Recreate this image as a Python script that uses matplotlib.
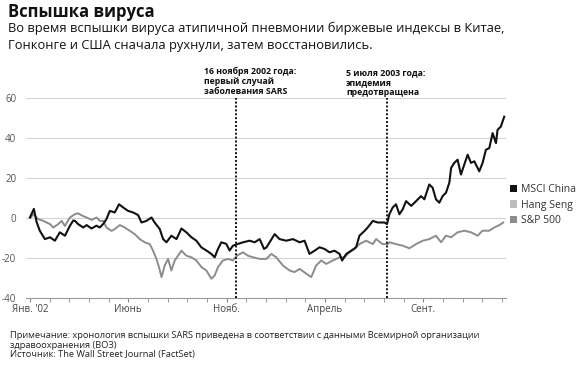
import numpy as np
import matplotlib
matplotlib.use("Agg")
import matplotlib.pyplot as plt
from matplotlib.patches import Patch

plt.rcParams['font.family'] = ['Open Sans', 'DejaVu Sans']

# Months since Jan 2002 and % change
msci_m = [0, 0.2, 0.34, 0.5, 0.76, 1.02, 1.27, 1.52, 1.78, 2.03, 2.2, 2.29, 2.45, 2.71, 2.88, 3.13,
          3.38, 3.55, 3.72, 3.89, 4.06, 4.31, 4.53, 4.74, 4.99, 5.25, 5.5, 5.67, 5.92, 6.18,
          6.34, 6.6, 6.77, 6.94, 7.19, 7.45, 7.7, 7.95, 8.21, 8.46, 8.71, 8.97, 9.22, 9.39,
          9.56, 9.73, 9.98, 10.15, 10.32, 10.58, 10.83, 11.17, 11.42, 11.68, 11.9, 12.02,
          12.44, 12.69, 13.03, 13.37, 13.71, 13.96, 14.21, 14.47, 14.72, 14.97, 15.23, 15.48,
          15.74, 15.87, 16.08, 16.33, 16.58, 16.75, 17.01, 17.17, 17.43, 17.68, 18.02, 18.15,
          18.27, 18.44, 18.61, 18.78, 18.95, 19.12, 19.38, 19.63, 19.88, 20.05, 20.3, 20.47,
          20.64, 20.81, 20.98, 21.15, 21.32, 21.41, 21.57, 21.74, 21.91, 22.08, 22.25, 22.42,
          22.59, 22.84, 23.01, 23.18, 23.35, 23.52, 23.69, 23.77, 23.94, 24.11]
msci_v = [0, 4.3, -2.3, -6.6, -10.8, -9.9, -11.6, -7.4, -9.1, -4.2, -1.5, -1.7, -3.3, -5.0, -3.8, -5.5,
          -4.1, -5.0, -3.3, -0.8, 3.3, 2.5, 6.6, 5.0, 3.3, 2.5, 1.2, -2.5, -1.7, 0,
          -2.5, -5.8, -10.8, -12.4, -9.1, -10.8, -5.5, -7.4, -9.9, -11.6, -14.9, -16.5, -18.2, -19.9,
          -15.7, -12.4, -13.2, -16.5, -14.1, -13.2, -12.4, -11.6, -12.4, -10.8, -15.7, -15.0,
          -8.3, -10.8, -11.6, -10.8, -12.4, -11.6, -18.2, -16.6, -14.9, -15.7, -17.4, -16.6,
          -18.2, -21.5, -18.2, -16.6, -14.9, -9.1, -6.7, -5.0, -1.7, -2.5, -2.5, -3.3,
          1.6, 5.0, 6.6, 1.6, 4.1, 8.2, 5.8, 8.2, 10.7, 9.1, 16.5, 14.9,
          9.1, 7.4, 10.7, 12.4, 17.4, 24.8, 27.3, 28.9, 21.5, 26.5, 31.4, 27.3,
          28.1, 23.1, 27.3, 33.9, 34.7, 42.2, 37.2, 43.8, 45.5, 50.4]

sp_m = [0.04, 0.17, 0.42, 0.68, 1.02, 1.18, 1.44, 1.61, 1.78, 2.03, 2.28, 2.45, 2.62, 2.88, 3.13,
        3.39, 3.55, 3.72, 3.89, 4.15, 4.31, 4.57, 4.82, 5.08, 5.33, 5.58, 5.84, 6.09, 6.26,
        6.43, 6.56, 6.69, 6.85, 7.02, 7.19, 7.36, 7.53, 7.7, 7.95, 8.21, 8.46, 8.72, 8.97,
        9.22, 9.39, 9.56, 9.81, 10.07, 10.32, 10.52, 10.83, 11.08, 11.34, 11.68, 12.02, 12.27,
        12.52, 12.86, 13.2, 13.45, 13.71, 14.05, 14.3, 14.55, 14.81, 15.06, 15.4, 15.74,
        15.99, 16.24, 16.5, 16.75, 17.09, 17.43, 17.6, 17.93, 18.19, 18.27, 18.61, 18.95,
        19.29, 19.63, 19.97, 20.3, 20.64, 20.9, 21.15, 21.41, 21.74, 22.08, 22.42, 22.76,
        23.01, 23.35, 23.6, 23.86, 24.06]
sp_v = [0, 1.6, -0.8, -1.7, -3.3, -5.0, -3.3, -1.7, -4.2, 0, 1.6, 2.1, 1.1, 0, -1.2,
        0, -1.7, -1.7, -5.0, -6.7, -5.8, -3.8, -5.0, -6.7, -8.3, -10.8, -12.4, -13.3, -16.6,
        -20.7, -24.8, -29.8, -24.0, -20.7, -26.5, -21.5, -19.1, -16.6, -19.1, -19.9, -21.5, -24.8, -26.5,
        -30.6, -29.0, -24.8, -21.5, -20.7, -21.5, -19.1, -17.4, -19.1, -19.9, -20.7, -20.7, -18.2,
        -19.9, -24.0, -26.5, -27.3, -25.7, -28.1, -29.8, -24.0, -21.5, -23.2, -21.5, -19.9,
        -19.9, -17.4, -15.7, -13.3, -11.6, -13.3, -10.8, -13.3, -13.3, -12.4, -13.3, -14.1,
        -15.4, -13.3, -11.6, -10.8, -9.1, -12.4, -9.1, -9.9, -7.4, -6.6, -7.4, -9.1,
        -6.6, -6.6, -5.0, -3.8, -2.5]

month_ticks = [0, 5, 10, 15, 20]
month_labels = ["Янв. '02", "Июнь", "Нояб.", "Апрель", "Сент."]
y_ticks = [-40, -20, 0, 20, 40, 60]
events = [10.5, 18.13]
event_texts = ["16 ноября 2002 года:\nпервый случай\nзаболевания SARS",
               "5 июля 2003 года:\nэпидемия\nпредотвращена"]

fig = plt.figure(figsize=(5.85, 3.7), dpi=100)
ax = fig.add_axes([26/585, 1 - 297.5/370, 480/585, 200/370])

for y in y_ticks[1:]:
    ax.axhline(y, color='#d4d4d4', lw=0.8, zorder=0)

ax.plot(sp_m, sp_v, color='#8c8c8c', lw=1.4, zorder=2)
ax.plot(msci_m, msci_v, color='#111111', lw=1.5, zorder=3)

for ev in events:
    ax.axvline(ev, color='#111111', lw=1.4, ls=(0, (1, 1)), zorder=4)

ax.set_xlim(-0.2, 24.2)
ax.set_ylim(-40, 60)
ax.set_yticks(y_ticks)
ax.set_yticklabels([str(v) for v in y_ticks])
ax.set_xticks(month_ticks)
ax.set_xticklabels(month_labels)
ax.set_xticks(np.arange(0, 25), minor=True)
ax.tick_params(axis='y', length=0, pad=7, labelsize=7, labelcolor='#555555')
ax.tick_params(axis='x', which='both', length=3, color='#888888', labelsize=7,
               labelcolor='#444444', pad=2)
for side in ['top', 'right', 'left']:
    ax.spines[side].set_visible(False)
ax.spines['bottom'].set_color('#999999')
ax.spines['bottom'].set_linewidth(0.8)

fig.text(8/585, 1 - 12/370, "Вспышка вируса", fontsize=12, fontweight='bold',
         color='#111111', va='center')
fig.text(8/585, 1 - 28/370,
         "Во время вспышки вируса атипичной пневмонии биржевые индексы в Китае,",
         fontsize=9.3, color='#111111', va='center')
fig.text(8/585, 1 - 46/370,
         "Гонконге и США сначала рухнули, затем восстановились.",
         fontsize=9.3, color='#111111', va='center')

fig.text(204/585, 1 - 67/370, event_texts[0], fontsize=6.3, fontweight='bold',
         color='#111111', va='top', linespacing=1.15)
fig.text(346/585, 1 - 68/370, event_texts[1], fontsize=6.3, fontweight='bold',
         color='#111111', va='top', linespacing=1.15)

handles = [Patch(facecolor='#111111', label='MSCI China'),
           Patch(facecolor='#bdbdbd', label='Hang Seng'),
           Patch(facecolor='#8c8c8c', label='S&P 500')]
fig.legend(handles=handles, loc='upper left', bbox_to_anchor=(510/585, 1 - 184/370),
           frameon=False, fontsize=7.5, handlelength=0.7, handleheight=0.7,
           handletextpad=0.4, labelspacing=0.45, borderaxespad=0, borderpad=0,
           labelcolor='#333333')

footer = ["Примечание: хронология вспышки SARS приведена в соответствии с данными Всемирной организации",
          "здравоохранения (ВОЗ)",
          "Источник: The Wall Street Journal (FactSet)"]
for i, line in enumerate(footer):
    fig.text(10/585, 1 - (336 + 9 * i)/370, line, fontsize=6.7, color='#222222', va='center')

fig.savefig("out.png", dpi=100)
